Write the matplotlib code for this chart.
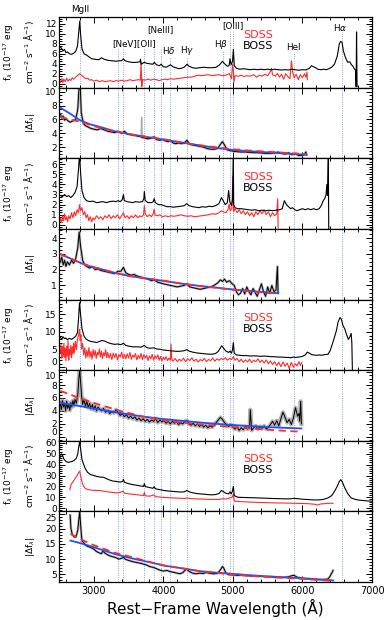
import matplotlib
matplotlib.use("Agg")
import matplotlib.pyplot as plt
from matplotlib.ticker import MultipleLocator

plt.rcParams['font.family'] = ['DejaVu Sans']

# ---------------- line list ----------------
line_wl = [2798, 3346, 3426, 3727, 3869, 3968, 4102, 4340, 4861, 4959, 5007, 5876, 6563]
line_top = [1.0, 0.55, 0.55, 0.55, 0.55, 0.55, 0.44, 0.44, 0.53, 0.80, 0.80, 0.50, 0.78]
label_text = ["MgII", "[NeV][OII]", "[NeIII]", "H$\\delta$", "H$\\gamma$", "H$\\beta$", "[OIII]", "HeI", "H$\\alpha$"]
label_x = [2798, 3577, 3955, 4084, 4340, 4825, 4996, 5866, 6540]
label_y = [1.10, 0.625, 0.82, 0.52, 0.52, 0.61, 0.875, 0.57, 0.85]

# ---------------- object 1 ----------------
o1_boss_wl = [2520, 2540, 2560, 2580, 2600, 2620, 2650, 2680, 2710, 2740, 2765, 2785, 2798, 2810, 2830, 2860,
              2890, 2930, 2970, 3020, 3070, 3110, 3150, 3200, 3260, 3320, 3360, 3400, 3426, 3450, 3500, 3560,
              3620, 3665, 3672, 3680, 3727, 3760, 3800, 3850, 3869, 3900, 3940, 3968, 4000, 4040, 4080, 4102,
              4140, 4180, 4220, 4260, 4300, 4340, 4370, 4420, 4470, 4520, 4580, 4640, 4700, 4760, 4810, 4850,
              4880, 4920, 4945, 4959, 4975, 4995, 5007, 5020, 5050, 5100, 5150, 5200, 5250, 5300, 5350, 5400,
              5450, 5500, 5550, 5600, 5650, 5700, 5750, 5800, 5850, 5900, 5950, 6000, 6050, 6100, 6130, 6160,
              6190, 6220, 6260, 6300, 6340, 6380, 6420, 6460, 6500, 6530, 6550, 6570, 6590, 6620, 6650, 6680,
              6700, 6730, 6750, 6765, 6772, 6778, 6785]
o1_boss = [7.4, 7.0, 6.6, 6.9, 6.2, 6.4, 6.0, 5.9, 6.1, 6.5, 7.5, 10.5, 12.6, 10.0, 7.0, 6.0,
           5.8, 5.4, 5.0, 4.9, 4.8, 5.2, 4.9, 4.7, 4.6, 4.5, 4.6, 4.6, 5.0, 4.6, 4.4, 4.25,
           4.3, 4.4, 4.9, 3.9, 4.3, 4.1, 4.0, 3.9, 4.3, 3.8, 3.6, 3.9, 3.4, 3.3, 3.6, 3.8,
           3.4, 3.2, 3.0, 3.1, 3.3, 3.9, 3.5, 3.2, 3.1, 3.2, 3.3, 3.2, 3.2, 3.3, 3.8, 4.5,
           4.0, 3.5, 3.6, 5.0, 3.8, 4.5, 6.9, 3.6, 3.1, 2.9, 3.0, 2.9, 2.8, 2.9, 2.8, 2.9,
           2.8, 2.9, 2.8, 2.9, 2.8, 2.75, 2.8, 2.75, 2.9, 2.8, 2.7, 2.8, 2.75, 3.1, 3.6, 3.4,
           3.2, 2.9, 2.8, 2.9, 2.8, 3.0, 3.3, 3.9, 5.5, 8.0, 8.5, 8.3, 6.5, 5.2, 4.3, 4.4,
           3.9, 3.4, 2.9, 2.7, -0.6, 10.4, -0.6]

o1_sdss_wl = [2520, 2540, 2555, 2570, 2590, 2610, 2630, 2650, 2670, 2690, 2710, 2740, 2770, 2798, 2820, 2850,
              2880, 2910, 2940, 2970, 3000, 3040, 3080, 3120, 3160, 3200, 3240, 3280, 3320, 3360, 3400, 3440,
              3480, 3520, 3560, 3600, 3640, 3670, 3680, 3690, 3700, 3740, 3780, 3820, 3860, 3900, 3940, 3980,
              4020, 4060, 4100, 4150, 4200, 4250, 4300, 4350, 4400, 4450, 4500, 4550, 4600, 4650, 4700, 4750,
              4800, 4850, 4900, 4950, 4980, 4995, 5007, 5015, 5030, 5080, 5120, 5160, 5200, 5250, 5300, 5340,
              5380, 5420, 5460, 5500, 5530, 5555, 5570, 5610, 5640, 5670, 5700, 5730, 5760, 5790, 5820, 5842,
              5860, 5880, 5910, 5940, 5970, 6000, 6030, 6050, 6065, 6070]
o1_sdss = [0.3, 1.0, 0.2, 0.9, 0.4, 1.1, 0.5, 0.9, 0.6, 1.2, 0.9, 1.3, 1.7, 2.0, 1.7, 1.4,
           1.0, 1.1, 0.7, 0.8, 0.5, 0.7, 0.4, 0.6, 0.4, 0.5, 0.6, 0.4, 0.6, 0.5, 0.7, 0.5,
           0.6, 0.8, 0.6, 0.7, 0.8, 0.7, 4.3, -0.6, 0.8, 0.7, 0.9, 0.7, 0.9, 0.8, 0.6, 0.8,
           0.9, 0.8, 1.0, 0.9, 1.0, 1.1, 1.2, 1.3, 1.3, 1.5, 1.7, 1.6, 1.7, 1.8, 1.6, 1.7,
           1.8, 1.6, 1.7, 2.0, 1.0, 3.9, 2.5, 0.3, 1.6, 1.5, 1.7, 1.4, 1.6, 1.5, 1.8, 1.3,
           1.7, 1.5, 1.9, 1.6, 2.2, 3.1, 1.8, 1.5, 2.1, 1.3, 1.9, 0.9, 2.0, 1.4, 1.0, 4.6,
           2.3, 1.2, 1.9, 0.8, 1.8, 1.2, 2.0, 1.3, 2.3, 0.8]

o1_df_wl = [2520, 2540, 2560, 2580, 2600, 2630, 2660, 2700, 2740, 2770, 2790, 2805, 2820, 2850, 2880, 2920,
            2960, 3000, 3050, 3100, 3150, 3200, 3250, 3300, 3350, 3400, 3440, 3480, 3530, 3580, 3630, 3680,
            3700, 3740, 3780, 3820, 3869, 3900, 3950, 3990, 4030, 4070, 4102, 4140, 4180, 4220, 4260, 4300,
            4340, 4380, 4430, 4480, 4530, 4580, 4630, 4680, 4730, 4780, 4820, 4850, 4880, 4920, 4960, 5007,
            5060, 5120, 5180, 5240, 5300, 5360, 5420, 5480, 5540, 5600, 5650, 5700, 5750, 5800, 5850, 5900,
            5940, 5980, 6020, 6050, 6058]
o1_df = [6.8, 6.2, 6.5, 5.9, 6.1, 5.8, 5.6, 5.8, 6.0, 7.5, 11.0, 11.0, 7.0, 5.4, 5.1, 4.9,
         4.7, 4.6, 4.5, 4.7, 4.5, 4.3, 4.2, 4.1, 4.3, 4.0, 4.3, 3.9, 3.8, 3.7, 3.6, 3.5,
         3.4, 3.3, 3.2, 3.3, 3.5, 3.1, 3.0, 3.1, 2.9, 2.8, 3.0, 2.6, 2.5, 2.6, 2.5, 2.6,
         3.0, 2.4, 2.3, 2.2, 2.1, 2.0, 1.8, 1.7, 1.7, 1.8, 2.4, 2.8, 2.3, 1.6, 1.5, 1.4,
         1.35, 1.3, 1.3, 1.25, 1.2, 1.2, 1.15, 1.1, 1.1, 1.15, 1.3, 1.1, 1.0, 1.2, 0.9, 1.1,
         0.8, 0.8, 0.9, 1.3, 0.9]
o1_dfraw_wl = [3680, 3688, 3696]
o1_dfraw = [3.5, 6.3, 3.4]
fit_wl_1 = [2520, 2650, 2800, 2950, 3100, 3300, 3500, 3750, 4000, 4250, 4500, 4750, 5000, 5250, 5500, 5800, 6058]
o1_fit_red = [6.4, 6.0, 5.7, 5.2, 4.75, 4.3, 3.9, 3.5, 3.15, 2.7, 2.3, 2.0, 1.7, 1.5, 1.35, 1.15, 1.0]
o1_fit_blue = [7.7, 6.9, 5.9, 5.3, 4.9, 4.3, 3.9, 3.5, 3.1, 2.7, 2.3, 1.9, 1.6, 1.4, 1.25, 1.05, 0.9]

# ---------------- object 2 ----------------
o2_boss_wl = [2520, 2550, 2580, 2610, 2640, 2670, 2700, 2730, 2760, 2780, 2795, 2810, 2830, 2860, 2895, 2940,
              2990, 3040, 3085, 3130, 3180, 3230, 3280, 3323, 3346, 3380, 3410, 3426, 3440, 3480, 3520, 3560,
              3600, 3650, 3700, 3720, 3727, 3740, 3780, 3830, 3855, 3869, 3885, 3930, 3970, 4010, 4050, 4100,
              4150, 4200, 4260, 4300, 4336, 4370, 4420, 4470, 4511, 4560, 4610, 4660, 4700, 4750, 4800, 4835,
              4860, 4890, 4920, 4939, 4955, 4980, 4995, 5005, 5012, 5030, 5070, 5120, 5170, 5220, 5270, 5320,
              5370, 5420, 5470, 5520, 5570, 5620, 5670, 5710, 5740, 5770, 5800, 5830, 5857, 5890, 5920, 5960,
              6000, 6040, 6083, 6120, 6160, 6200, 6240, 6270, 6300, 6320, 6340, 6350, 6360, 6372, 6378]
o2_boss = [2.9, 2.8, 3.0, 2.8, 2.9, 2.7, 2.9, 3.2, 3.8, 5.5, 7.0, 5.2, 3.4, 2.7, 2.4, 2.3,
           2.35, 2.2, 2.25, 2.3, 2.2, 2.3, 2.35, 2.3, 2.4, 2.3, 2.5, 3.0, 2.4, 2.3, 2.25, 2.2,
           2.3, 2.25, 2.3, 2.6, 3.3, 2.4, 2.2, 2.2, 2.3, 2.6, 2.2, 2.0, 2.0, 1.9, 1.8, 1.8,
           1.75, 1.8, 1.85, 1.9, 2.1, 1.9, 1.8, 1.75, 1.7, 1.8, 1.75, 1.85, 1.8, 1.9, 2.1, 2.7,
           2.4, 2.0, 2.2, 3.4, 2.3, 1.9, 2.5, 7.0, 2.0, 1.7, 1.6, 1.6, 1.55, 1.5, 1.45, 1.5,
           1.4, 1.45, 1.4, 1.45, 1.4, 1.45, 1.5, 1.6, 2.4, 2.0, 1.8, 1.6, 1.7, 1.5, 1.4, 1.5,
           1.6, 1.5, 1.6, 1.5, 1.6, 1.5, 1.6, 1.9, 2.4, 2.6, 3.0, 4.0, 2.9, 6.8, -0.4]

o2_sdss_wl = [2520, 2535, 2550, 2565, 2580, 2595, 2610, 2625, 2640, 2660, 2680, 2700, 2720, 2740, 2760, 2780,
              2795, 2810, 2830, 2850, 2870, 2890, 2910, 2930, 2950, 2970, 2990, 3010, 3040, 3070, 3100, 3130,
              3160, 3190, 3220, 3250, 3280, 3310, 3340, 3370, 3400, 3426, 3450, 3480, 3510, 3540, 3570, 3600,
              3630, 3660, 3690, 3715, 3727, 3740, 3770, 3800, 3830, 3860, 3869, 3880, 3910, 3950, 3990, 4030,
              4070, 4110, 4150, 4200, 4250, 4300, 4350, 4400, 4450, 4500, 4550, 4600, 4650, 4700, 4750, 4800,
              4835, 4860, 4900, 4930, 4945, 4960, 4985, 5000, 5010, 5030, 5060, 5090, 5120, 5150, 5180, 5210,
              5240, 5270, 5300, 5330, 5360, 5390, 5420, 5450, 5480, 5510, 5540, 5570, 5600, 5630, 5645, 5650]
o2_sdss = [0.6, 0.2, 0.9, 0.4, 1.1, 0.5, 0.8, 0.3, 0.9, 0.6, 1.2, 0.7, 1.3, 0.9, 1.5, 1.2,
           2.0, 1.4, 1.7, 1.0, 1.3, 0.7, 1.0, 0.4, 0.8, 0.3, 0.7, 0.5, 0.9, 0.6, 0.8, 0.5,
           0.9, 0.7, 1.0, 0.6, 0.9, 0.7, 1.0, 0.6, 0.9, 1.2, 0.7, 0.9, 0.6, 0.9, 0.7, 1.0,
           0.7, 0.9, 0.8, 1.0, 1.9, 1.1, 0.8, 1.0, 0.8, 1.2, 1.5, 1.0, 0.9, 1.0, 0.8, 0.9,
           0.8, 0.9, 0.85, 0.9, 1.0, 0.9, 0.85, 0.9, 0.8, 0.85, 0.9, 0.95, 1.0, 1.1, 1.05, 1.2,
           1.4, 1.3, 1.2, 1.5, 2.05, 1.4, 1.6, 4.8, 1.3, 1.6, 1.2, 1.5, 1.1, 1.4, 1.0, 1.3,
           0.9, 1.2, 0.8, 1.3, 1.0, 1.4, 1.1, 1.5, 1.0, 1.3, 0.8, 1.2, 0.9, 1.1, 2.6, -0.3]

o2_df_wl = [2520, 2540, 2560, 2580, 2600, 2620, 2650, 2680, 2710, 2740, 2770, 2790, 2810, 2840, 2870, 2900,
            2940, 2980, 3020, 3060, 3100, 3150, 3200, 3250, 3300, 3346, 3390, 3426, 3460, 3500, 3540, 3580,
            3620, 3660, 3700, 3740, 3780, 3830, 3870, 3920, 3960, 4000, 4050, 4100, 4150, 4200, 4250, 4300,
            4340, 4380, 4430, 4480, 4530, 4580, 4630, 4680, 4730, 4780, 4820, 4850, 4880, 4910, 4950, 4990,
            5020, 5050, 5080, 5110, 5140, 5170, 5200, 5230, 5260, 5290, 5320, 5350, 5380, 5410, 5440, 5470,
            5500, 5530, 5560, 5590, 5620, 5640, 5650]
o2_df = [2.5, 2.8, 2.3, 2.6, 2.2, 2.5, 2.3, 2.6, 2.4, 2.7, 3.4, 4.4, 3.5, 2.6, 2.3, 2.2,
         2.1, 2.2, 2.0, 2.05, 1.95, 1.9, 1.85, 1.8, 1.75, 1.9, 1.9, 2.15, 1.8, 1.7, 1.65, 1.7,
         1.6, 1.55, 1.5, 1.45, 1.4, 1.3, 1.35, 1.2, 1.15, 1.1, 1.05, 1.0, 0.95, 0.9, 0.95, 1.0,
         1.1, 0.9, 0.85, 0.8, 0.75, 0.8, 0.85, 0.9, 1.0, 1.15, 1.35, 1.25, 1.4, 1.2, 1.3, 1.1,
         1.0, 0.6, 0.4, 0.5, 0.8, 0.45, 0.9, 0.6, 0.4, 0.8, 0.55, 0.3, 0.7, 1.1, 0.6, 0.3,
         0.9, 0.5, 1.0, 0.6, 0.7, 2.2, 0.5]
fit_wl_2 = [2520, 2650, 2800, 2950, 3100, 3300, 3500, 3750, 4000, 4250, 4500, 4750, 5000, 5250, 5500, 5650]
o2_fit_red = [3.0, 2.75, 2.45, 2.2, 2.05, 1.8, 1.6, 1.45, 1.3, 1.12, 0.97, 0.85, 0.72, 0.62, 0.52, 0.47]
o2_fit_blue = [2.98, 2.74, 2.45, 2.21, 2.04, 1.8, 1.61, 1.44, 1.29, 1.12, 0.98, 0.86, 0.74, 0.64, 0.55, 0.5]

# ---------------- object 3 ----------------
o3_boss_wl = [2520, 2540, 2560, 2580, 2600, 2620, 2650, 2680, 2710, 2740, 2765, 2780, 2795, 2810, 2830, 2860,
              2890, 2920, 2960, 3000, 3040, 3080, 3120, 3160, 3200, 3250, 3300, 3346, 3390, 3426, 3460, 3500,
              3560, 3620, 3680, 3727, 3760, 3800, 3869, 3900, 3955, 4000, 4050, 4100, 4145, 4200, 4260, 4300,
              4336, 4370, 4420, 4470, 4511, 4560, 4610, 4660, 4700, 4750, 4790, 4820, 4840, 4870, 4900, 4939,
              4959, 4980, 4995, 5007, 5020, 5050, 5100, 5150, 5200, 5250, 5300, 5350, 5400, 5450, 5500, 5550,
              5600, 5650, 5700, 5750, 5800, 5830, 5870, 5900, 5950, 6000, 6040, 6070, 6100, 6130, 6160, 6200,
              6240, 6280, 6320, 6368, 6400, 6430, 6460, 6490, 6510, 6540, 6560, 6580, 6610, 6630, 6660, 6680,
              6700, 6710, 6718]
o3_boss = [8.5, 8.0, 8.6, 8.1, 8.3, 7.8, 8.2, 7.9, 8.3, 8.8, 9.8, 13.5, 18.3, 15.0, 11.0, 8.8,
           8.0, 7.6, 7.3, 7.2, 7.0, 7.3, 7.6, 7.4, 7.0, 6.7, 6.5, 6.6, 6.4, 6.8, 6.2, 6.0,
           5.8, 5.8, 5.7, 6.2, 5.6, 5.4, 5.5, 5.2, 5.1, 4.9, 4.8, 4.7, 4.6, 4.5, 4.6, 4.7,
           5.0, 4.6, 4.3, 4.1, 4.0, 3.9, 3.8, 3.7, 3.7, 3.9, 4.5, 5.5, 6.1, 5.3, 4.6, 4.2,
           4.6, 4.0, 5.0, 7.0, 4.0, 3.5, 3.4, 3.3, 3.3, 3.2, 3.25, 3.2, 3.1, 3.2, 3.1, 3.0,
           3.0, 2.9, 2.9, 2.8, 2.8, 2.7, 2.9, 2.8, 2.9, 3.1, 3.5, 4.3, 4.0, 3.6, 3.5, 3.4,
           3.5, 3.4, 3.6, 3.7, 4.8, 6.6, 8.5, 10.5, 12.7, 14.1, 13.6, 12.0, 10.8, 9.5, 7.9, 8.5,
           9.6, 7.0, -0.6]

o3_sdss_wl = [2520, 2530, 2540, 2550, 2560, 2570, 2580, 2590, 2600, 2610, 2620, 2630, 2640, 2650, 2660, 2670,
              2680, 2690, 2700, 2710, 2720, 2735, 2750, 2765, 2780, 2795, 2805, 2815, 2825, 2840, 2855, 2870,
              2885, 2900, 2915, 2930, 2945, 2960, 2975, 2990, 3005, 3020, 3035, 3050, 3065, 3080, 3095, 3110,
              3125, 3140, 3155, 3170, 3185, 3200, 3220, 3240, 3260, 3280, 3300, 3320, 3340, 3360, 3380, 3400,
              3420, 3440, 3460, 3480, 3500, 3520, 3540, 3560, 3580, 3600, 3620, 3640, 3660, 3680, 3700, 3720,
              3740, 3760, 3780, 3800, 3820, 3840, 3860, 3880, 3900, 3920, 3940, 3960, 3980, 4000, 4020, 4040,
              4060, 4080, 4100, 4110, 4120, 4140, 4170, 4200, 4230, 4260, 4290, 4320, 4350, 4380, 4410, 4440,
              4470, 4500, 4530, 4560, 4590, 4620, 4650, 4680, 4710, 4740, 4770, 4800, 4830, 4860, 4890, 4920,
              4950, 4980, 5007, 5030, 5060, 5090, 5120, 5150, 5180, 5210, 5240, 5270, 5300, 5330, 5360, 5390,
              5420, 5450, 5480, 5510, 5540, 5570, 5600, 5630, 5660, 5690, 5720, 5750, 5780, 5810, 5840, 5870,
              5900, 5920, 5950, 5970, 5990]
o3_sdss = [4.0, 6.5, 2.5, 5.8, 3.0, 6.8, 2.8, 5.5, 1.8, 6.0, 3.2, 7.5, 2.0, 5.0, 3.5, 6.2,
           2.7, 5.8, 3.8, 6.9, 4.0, 7.4, 5.0, 7.8, 9.0, 10.8, 7.5, 9.2, 5.2, 6.8, 3.5, 5.5,
           2.6, 4.8, 3.0, 5.6, 2.8, 4.5, 2.3, 5.0, 3.2, 4.8, 2.5, 4.2, 3.5, 5.2, 2.9, 4.6,
           2.4, 4.1, 3.3, 5.0, 2.7, 4.2, 2.6, 3.9, 2.2, 4.0, 2.8, 3.9, 2.1, 3.6, 2.9, 4.3,
           2.5, 3.7, 2.4, 3.8, 2.6, 4.2, 2.3, 3.5, 2.8, 3.9, 2.1, 3.4, 2.5, 3.9, 2.2, 3.6,
           2.6, 3.4, 1.9, 3.2, 2.4, 3.7, 2.0, 3.3, 2.5, 3.5, 2.0, 3.1, 1.8, 2.9, 2.2, 3.0,
           1.9, 2.6, 2.0, 6.6, 2.4, 1.7, 2.5, 1.6, 2.3, 1.8, 2.6, 1.6, 2.4, 1.9, 2.7, 1.7,
           2.3, 1.5, 2.2, 1.8, 2.5, 1.6, 2.2, 1.9, 2.6, 1.7, 2.4, 2.0, 2.5, 2.2, 2.7, 2.0,
           2.5, 2.2, 3.0, 2.0, 2.5, 1.6, 2.3, 1.4, 2.1, 1.5, 2.3, 1.3, 2.0, 1.6, 2.4, 1.4,
           2.0, 1.2, 2.1, 1.0, 1.8, 0.8, 1.6, 0.5, 1.4, 0.2, 1.5, 0.3, 1.2, -0.3, 1.4, 0.0,
           1.0, 0.4, 1.6, 0.5, 1.3]

o3_df_wl = [2520, 2535, 2550, 2565, 2580, 2595, 2610, 2625, 2640, 2655, 2670, 2685, 2700, 2715, 2730, 2750,
            2770, 2785, 2798, 2810, 2825, 2840, 2860, 2880, 2900, 2920, 2940, 2960, 2980, 3000, 3020, 3040,
            3060, 3085, 3110, 3140, 3170, 3200, 3230, 3260, 3290, 3320, 3346, 3380, 3410, 3440, 3470, 3500,
            3530, 3560, 3590, 3620, 3650, 3680, 3710, 3740, 3770, 3800, 3830, 3860, 3890, 3920, 3950, 3980,
            4010, 4040, 4070, 4100, 4130, 4160, 4190, 4220, 4250, 4280, 4310, 4340, 4370, 4400, 4430, 4460,
            4490, 4520, 4550, 4580, 4610, 4640, 4670, 4700, 4730, 4760, 4790, 4820, 4850, 4880, 4910, 4940,
            4970, 5000, 5030, 5060, 5090, 5120, 5150, 5180, 5210, 5240, 5250, 5270, 5300, 5330, 5360, 5390,
            5420, 5450, 5480, 5510, 5540, 5570, 5600, 5630, 5660, 5690, 5720, 5750, 5780, 5810, 5840, 5870,
            5900, 5930, 5950, 5960, 5975, 5985]
o3_df = [5.0, 4.2, 5.6, 4.6, 5.2, 4.0, 5.5, 4.4, 5.0, 4.1, 5.3, 4.6, 5.6, 4.8, 5.8, 5.2,
         6.5, 9.0, 10.3, 8.5, 6.3, 5.0, 5.8, 4.7, 5.5, 4.5, 5.2, 4.3, 5.0, 4.2, 4.8, 4.0,
         4.6, 4.3, 4.0, 4.4, 3.8, 4.1, 3.6, 3.9, 3.7, 4.2, 3.8, 3.3, 3.6, 3.1, 3.4, 2.9,
         3.2, 2.8, 3.1, 2.6, 2.9, 2.5, 2.8, 2.4, 2.7, 2.3, 2.6, 2.4, 2.8, 2.2, 2.6, 2.3,
         2.5, 2.1, 2.4, 2.0, 2.4, 2.1, 2.3, 1.9, 2.2, 2.0, 2.4, 2.5, 2.0, 1.8, 2.1, 1.7,
         2.0, 1.6, 1.9, 1.5, 1.8, 1.4, 1.7, 1.5, 1.9, 2.2, 2.6, 3.0, 2.7, 2.2, 1.8, 1.6,
         1.9, 1.5, 1.2, 1.5, 1.0, 1.4, 1.1, 1.6, 1.2, 1.5, 4.2, 1.0, 1.4, 1.7, 1.2, 1.6,
         1.3, 1.7, 1.2, 1.5, 1.9, 2.4, 1.8, 2.5, 1.7, 2.8, 3.8, 3.0, 2.2, 2.7, 1.9, 2.9,
         4.5, 3.2, 3.6, 2.4, 5.5, 2.0]
fit_wl_3 = [2520, 2800, 3100, 3400, 3700, 4000, 4300, 4600, 4900, 5200, 5500, 5800, 5985]
o3_fit_red = [7.1, 5.95, 4.9, 3.95, 3.15, 2.55, 2.15, 1.85, 1.6, 1.35, 1.1, 0.9, 0.8]
o3_fit_blue = [5.25, 4.75, 4.2, 3.65, 3.15, 2.75, 2.45, 2.15, 1.9, 1.7, 1.5, 1.37, 1.3]

# ---------------- object 4 ----------------
o4_boss_wl = [2520, 2535, 2550, 2570, 2600, 2630, 2660, 2690, 2720, 2750, 2770, 2785, 2798, 2810, 2830, 2850,
              2880, 2910, 2950, 3000, 3050, 3100, 3130, 3170, 3220, 3270, 3323, 3380, 3415, 3426, 3440, 3500,
              3560, 3620, 3680, 3715, 3727, 3740, 3800, 3850, 3869, 3885, 3950, 4000, 4050, 4100, 4150, 4200,
              4260, 4300, 4340, 4380, 4430, 4480, 4530, 4600, 4650, 4700, 4750, 4800, 4835, 4860, 4890, 4920,
              4939, 4959, 4975, 4990, 5007, 5020, 5070, 5150, 5250, 5350, 5450, 5550, 5650, 5750, 5830, 5880,
              5940, 6000, 6100, 6175, 6250, 6300, 6368, 6420, 6460, 6500, 6530, 6550, 6570, 6610, 6650, 6700,
              6750, 6800, 6870, 6940, 6990]
o4_boss = [47, 50, 49, 45, 43, 42, 42.5, 43, 44, 46, 50, 57, 61, 55, 45, 41,
           36, 33, 31, 30, 29, 28.5, 28.5, 27.5, 26, 25, 24.5, 24, 24.5, 26.5, 23.8, 22.5,
           21.6, 21, 20.3, 20, 22.5, 19.8, 19, 18.2, 19.8, 17.8, 17, 16.3, 15.9, 15.6, 15.3, 15,
           14.8, 15, 16.2, 14.8, 14, 13.4, 13.1, 12.7, 12.4, 12.2, 12.5, 13.5, 16.3, 15.3, 14, 13.3,
           13.1, 15, 13, 15, 20, 11.5, 10, 9.8, 9.6, 9.4, 9.2, 8.9, 8.7, 8.5, 8.6, 9.0,
           8.6, 8.2, 7.8, 7.5, 7.6, 8.0, 9.4, 11.5, 15.3, 20, 24.5, 26.2, 24.5, 18.4, 13.5, 9.4,
           8.2, 7.5, 7.0, 6.6, 6.4]

o4_sdss_wl = [2655, 2675, 2700, 2730, 2760, 2785, 2798, 2810, 2830, 2850, 2880, 2920, 2970, 3020, 3085, 3150,
              3200, 3250, 3300, 3346, 3426, 3440, 3500, 3560, 3620, 3680, 3715, 3727, 3740, 3800, 3869, 3885,
              3950, 4000, 4100, 4200, 4300, 4340, 4400, 4500, 4600, 4700, 4800, 4861, 4900, 4959, 4990, 5007,
              5020, 5100, 5200, 5300, 5400, 5500, 5600, 5700, 5800, 5900, 6000, 6100, 6180, 6220, 6260, 6300,
              6350, 6400, 6440]
o4_sdss = [17, 22, 24, 27, 30, 33, 34, 30, 24, 20.5, 18, 17, 16.5, 16.3, 16.2, 15.5,
           15.0, 14.6, 14.2, 14.0, 15.5, 13.7, 13.2, 12.7, 12.3, 11.8, 11.5, 14.5, 11.3, 11, 12.2, 10.6,
           10.2, 9.9, 9.5, 9.2, 8.9, 9.3, 8.7, 8.4, 8.2, 8.0, 8.0, 8.6, 8.3, 9.4, 10, 13,
           6.5, 6.0, 5.7, 5.4, 5.2, 5.0, 4.8, 4.7, 4.6, 4.4, 4.3, 4.0, 3.5, 2.8, 3.8, 4.0,
           4.3, 4.5, 4.4]

o4_df_wl = [2660, 2672, 2690, 2710, 2730, 2750, 2770, 2785, 2798, 2815, 2830, 2850, 2880, 2910, 2950, 3000, 3040,
            3085, 3110, 3130, 3160, 3200, 3240, 3275, 3320, 3360, 3400, 3426, 3460, 3500, 3560, 3620, 3680,
            3712, 3760, 3800, 3855, 3900, 3950, 4000, 4050, 4100, 4145, 4200, 4240, 4280, 4310, 4336, 4370,
            4420, 4470, 4520, 4570, 4620, 4660, 4720, 4780, 4820, 4850, 4870, 4900, 4940, 5000, 5060, 5120,
            5180, 5250, 5320, 5400, 5450, 5520, 5600, 5680, 5750, 5800, 5850, 5880, 5920, 5980, 6050, 6120,
            6180, 6225, 6280, 6340, 6368, 6395, 6415, 6430, 6440]
o4_df = [24.5, 20, 18.2, 17.5, 17.2, 17.8, 19.5, 23, 25.5, 20, 16, 15.6, 14.6, 14.2, 13.9, 13.3, 12.5,
         12, 11.8, 12.6, 12.0, 11.4, 11.0, 10.8, 10.5, 10.0, 10.3, 10.6, 9.9, 9.6, 9.2, 8.9, 8.6,
         8.4, 8.1, 7.6, 7.3, 6.9, 6.4, 6.1, 6.3, 5.9, 5.7, 5.4, 5.2, 5.6, 6.3, 6.7, 6.0,
         5.4, 5.2, 5.4, 5.3, 5.6, 5.4, 5.2, 5.3, 6.5, 7.6, 7.0, 5.4, 4.9, 4.8, 4.7, 4.8,
         4.6, 4.5, 4.5, 4.4, 4.3, 4.3, 4.1, 4.0, 4.0, 4.2, 4.6, 4.7, 4.1, 3.8, 3.6, 3.5,
         3.4, 3.3, 3.3, 3.4, 3.5, 4.3, 5.2, 5.8, 6.3]
fit_wl_4 = [2665, 2800, 2950, 3085, 3300, 3560, 3800, 4036, 4300, 4511, 4750, 4987, 5200, 5450, 5700, 5940, 6200, 6440]
o4_fit_red = [18.3, 16.7, 15.0, 13.9, 12.1, 10.6, 9.1, 7.8, 6.9, 6.1, 5.5, 5.0, 4.6, 4.2, 3.9, 3.6, 3.2, 2.8]
o4_fit_blue = [16.1, 15.3, 14.3, 13.3, 11.7, 10.2, 9.0, 7.8, 6.9, 6.1, 5.6, 5.2, 4.8, 4.4, 4.1, 3.8, 3.4, 3.0]

# ---------------- axis settings ----------------
ylims = [(-0.8, 13.4), (0.4, 10.6), (-0.4, 6.6), (0.1, 4.6), (-0.8, 19.2), (-0.6, 10.3), (-3, 62), (2.5, 25.7)]
ymajor = [2, 2, 1, 1, 5, 2, 10, 5]
yminor = [0.5, 0.5, 0.25, 0.25, 1, 0.5, 2, 1]
nudge_bottom = [False, False, False, False, True, True, False, False]
nudge_top = [False, False, False, False, False, True, False, True]

# ---------------- figure ----------------
fig = plt.figure(figsize=(3.9, 6.2), dpi=100)
left, right, top, bottom = 59 / 390, 372 / 390, 1 - 17 / 620, 1 - 582 / 620
n = 8
h = (top - bottom) / n
axes = []
for i in range(n):
    ax = fig.add_axes([left, top - (i + 1) * h, right - left, h])
    axes.append(ax)

RED = '#ff2a2a'
BLUE = '#1f4fff'
GRAY = '#a8a8a8'
VCOL = '#7ea6f2'

flux_label = 'f$_\\lambda$ (10$^{-17}$ erg\ncm$^{-2}$ s$^{-1}$ Å$^{-1}$)'
df_label = '|$\\Delta$f$_\\lambda$|'

objects = [
    (o1_boss_wl, o1_boss, o1_sdss_wl, o1_sdss, o1_df_wl, o1_df, fit_wl_1, o1_fit_red, o1_fit_blue),
    (o2_boss_wl, o2_boss, o2_sdss_wl, o2_sdss, o2_df_wl, o2_df, fit_wl_2, o2_fit_red, o2_fit_blue),
    (o3_boss_wl, o3_boss, o3_sdss_wl, o3_sdss, o3_df_wl, o3_df, fit_wl_3, o3_fit_red, o3_fit_blue),
    (o4_boss_wl, o4_boss, o4_sdss_wl, o4_sdss, o4_df_wl, o4_df, fit_wl_4, o4_fit_red, o4_fit_blue),
]

for k, (bw, bf, sw, sf, dw, dfv, fw, fr, fb) in enumerate(objects):
    axf = axes[2 * k]
    axd = axes[2 * k + 1]
    for j, wl in enumerate(line_wl):
        ymax = line_top[j] if k == 0 else 1.0
        axf.axvline(wl, ymin=0, ymax=ymax, color=VCOL, lw=0.7, ls=(0, (1, 1.3)), zorder=1)
        axd.axvline(wl, color=VCOL, lw=0.7, ls=(0, (1, 1.3)), zorder=1)
    axf.plot(bw, bf, color='black', lw=0.8, zorder=3)
    axf.plot(sw, sf, color=RED, lw=0.8, zorder=2)
    axf.text(5150, 0.74, 'SDSS', color=RED, fontsize=8, ha='left', va='center',
             transform=axf.get_xaxis_transform())
    axf.text(5150, 0.585, 'BOSS', color='black', fontsize=8, ha='left', va='center',
             transform=axf.get_xaxis_transform())
    axf.set_ylabel(flux_label, fontsize=6.5, linespacing=1.5)
    axf.yaxis.set_label_coords(-0.075, 0.5)
    gw = 3.0 if k == 2 else 1.8
    axd.plot(dw, dfv, color=GRAY, lw=gw, alpha=0.85, zorder=2, solid_joinstyle='round')
    if k == 0:
        axd.plot(o1_dfraw_wl, o1_dfraw, color=GRAY, lw=1.0, zorder=2)
    axd.plot(dw, dfv, color='black', lw=0.7, zorder=3)
    axd.plot(fw, fb, color=BLUE, lw=1.3, zorder=4)
    axd.plot(fw, fr, color=RED, lw=1.3, ls=(0, (4, 2.5)), zorder=5)
    axd.set_ylabel(df_label, fontsize=6.5)
    axd.yaxis.set_label_coords(-0.07, 0.5)

for i, ax in enumerate(axes):
    ax.set_xlim(2500, 7000)
    ax.set_ylim(*ylims[i])
    ax.xaxis.set_major_locator(MultipleLocator(1000))
    ax.xaxis.set_minor_locator(MultipleLocator(200))
    ax.yaxis.set_major_locator(MultipleLocator(ymajor[i]))
    ax.yaxis.set_minor_locator(MultipleLocator(yminor[i]))
    ax.tick_params(which='both', direction='in', top=True, right=True, labelsize=6.5, width=0.7, pad=1.5)
    ax.tick_params(which='major', length=4)
    ax.tick_params(which='minor', length=2)
    for s in ax.spines.values():
        s.set_linewidth(0.9)
    if i < n - 1:
        ax.tick_params(labelbottom=False)
    else:
        ax.tick_params(axis='x', labelsize=7, pad=3)
    lo, hi = ylims[i]
    span = hi - lo
    locs = ax.yaxis.get_majorticklocs()
    ticks = ax.yaxis.get_major_ticks(len(locs))
    for loc, t in zip(locs, ticks):
        if nudge_bottom[i] and lo <= loc < lo + 0.07 * span:
            t.label1.set_va('bottom')
        elif nudge_top[i] and hi - 0.07 * span < loc <= hi:
            t.label1.set_va('top')

axes[-1].set_xlabel('Rest\u2212Frame Wavelength (Å)', fontsize=11, labelpad=2)

ax0 = axes[0]
for t, x, y in zip(label_text, label_x, label_y):
    ax0.text(x, y, t, fontsize=6.3, ha='center', va='center', transform=ax0.get_xaxis_transform(),
             clip_on=False)

fig.savefig('out.png', dpi=100)
